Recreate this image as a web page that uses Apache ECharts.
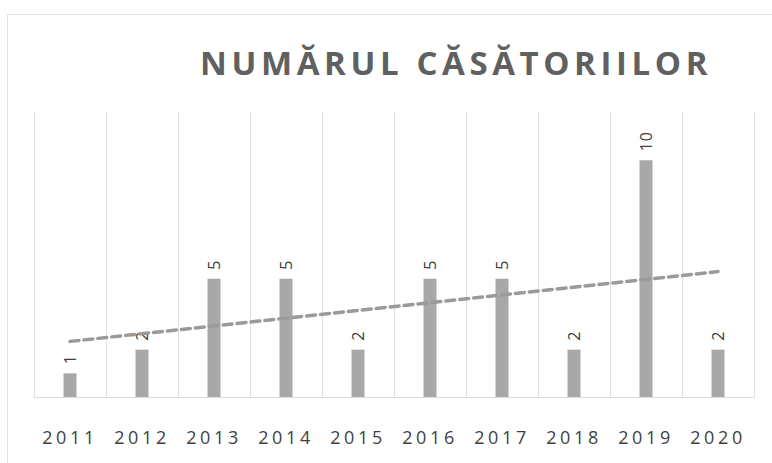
<!DOCTYPE html>
<html>
<head>
<meta charset="utf-8">
<script src="https://cdn.jsdelivr.net/npm/echarts@6/dist/echarts.min.js"></script>
<style>
html,body{margin:0;padding:0;background:#fff;}
#chart{width:772px;height:463px;}
</style>
</head>
<body>
<div id="chart"></div>
<script>
const titleText = 'NUMĂRUL CĂSĂTORIILOR';
const years = ['2011','2012','2013','2014','2015','2016','2017','2018','2019','2020'];
const marriages = [1, 2, 5, 5, 2, 5, 5, 2, 10, 2];
// linear trend line (first and last category)
const trendYears = ['2011', '2020'];
const trendValues = [2.35, 5.3];

const trendData = years.map(y => {
  const i = trendYears.indexOf(y);
  return i >= 0 ? trendValues[i] : null;
});

const chart = echarts.init(document.getElementById('chart'), null, {renderer: 'svg'});
chart.setOption({
  animation: false,
  backgroundColor: '#ffffff',
  title: {
    text: titleText,
    left: 200,
    top: 46,
    padding: 0,
    textStyle: {
      fontFamily: 'Open Sans',
      fontWeight: 'bold',
      fontSize: 33,
      color: '#606060'
    }
  },
  graphic: [{
    type: 'polyline',
    shape: {points: [[7.5, 463], [7.5, 14.5], [772, 14.5]]},
    style: {stroke: '#e3e3e3', lineWidth: 1, fill: null},
    silent: true
  }],
  grid: {left: 34, right: 18, top: 113, bottom: 66},
  xAxis: {
    type: 'category',
    data: years,
    boundaryGap: true,
    axisLine: {show: true, lineStyle: {color: '#dcdcdc', width: 1}},
    axisTick: {show: false},
    splitLine: {show: true, interval: 0, lineStyle: {color: '#e0e0e0', width: 1}},
    axisLabel: {
      margin: 31,
      interval: 0,
      fontFamily: 'Open Sans',
      fontSize: 18,
      color: '#3f3f3f'
    }
  },
  yAxis: {
    type: 'value',
    min: 0,
    max: 12,
    show: false,
    splitLine: {show: false}
  },
  series: [{
    type: 'bar',
    data: marriages,
    barWidth: 13,
    itemStyle: {color: '#a8a8a8'},
    label: {
      show: true,
      position: 'top',
      rotate: 90,
      align: 'left',
      verticalAlign: 'middle',
      distance: 9,
      fontFamily: 'Open Sans',
      fontSize: 16,
      color: '#404040'
    },
    z: 2
  }, {
    type: 'line',
    data: trendData,
    connectNulls: true,
    symbol: 'none',
    lineStyle: {color: '#9a9a9a', width: 3.5, type: [9, 5], cap: 'round'},
    z: 3
  }]
});

function spaceText() {
  const texts = document.querySelectorAll('#chart svg text');
  texts.forEach(t => {
    const s = t.textContent;
    if (s === titleText) {
      t.setAttribute('letter-spacing', '4.6px');
    } else if (years.indexOf(s) >= 0) {
      t.setAttribute('letter-spacing', '3.6px');
    } else {
      t.setAttribute('letter-spacing', '1px');
    }
  });
}
spaceText();
chart.on('finished', spaceText);
</script>
</body>
</html>
